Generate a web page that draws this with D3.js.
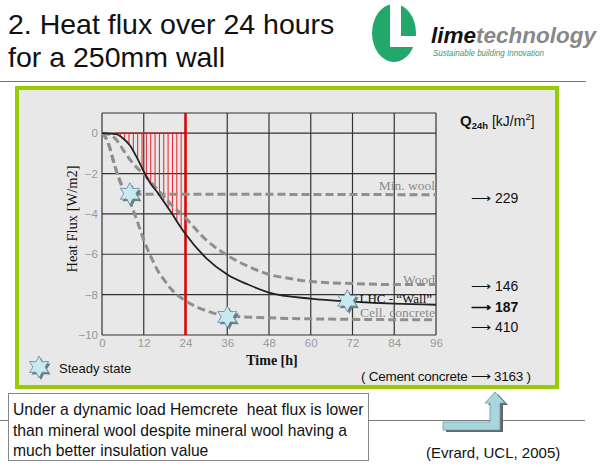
<!DOCTYPE html>
<html><head><meta charset="utf-8">
<script src="https://cdn.jsdelivr.net/npm/d3@7"></script>
<style>
body{margin:0;background:#fff;}
svg text{font-family:Arial,"Liberation Sans",sans-serif;}
.serif{font-family:"Liberation Serif","Times New Roman",serif !important;}
</style></head>
<body><svg id="c" width="600" height="469"></svg>
<script>
// ---------- data ----------
const xTicks = [0, 12, 24, 36, 48, 60, 72, 84, 96];
const yTicks = [0, -2, -4, -6, -8, -10];
const minWool = [[0,0],[1,-0.2],[2,-0.6],[3,-1.2],[4,-1.8],[5,-2.3],[6,-2.7],[7,-2.92],[8,-3.0],[10,-3.02],[24,-3.02],[48,-3.03],[96,-3.05]];
const wood = [[0,0],[2,-0.05],[4,-0.3],[6,-0.8],[8,-1.3],[10,-1.7],[12,-2.05],[16,-2.8],[20,-3.55],[24,-4.2],[30,-5.3],[36,-6.05],[42,-6.6],[48,-7.0],[54,-7.2],[60,-7.35],[72,-7.45],[84,-7.5],[96,-7.5]];
const lhcWall = [[0,0],[4,-0.05],[6,-0.25],[8,-0.6],[10,-1.2],[12,-1.9],[14,-2.5],[16,-2.95],[18,-3.45],[20,-3.95],[22,-4.5],[24,-5.0],[30,-6.2],[36,-7.0],[42,-7.5],[48,-7.9],[60,-8.2],[72,-8.35],[84,-8.45],[96,-8.5]];
const cellConcrete = [[0,0],[1,-0.2],[2,-0.6],[3,-1.2],[4,-1.8],[5,-2.3],[6,-2.7],[8,-3.4],[10,-4.3],[12,-5.3],[14,-6.1],[16,-6.8],[18,-7.3],[20,-7.75],[24,-8.3],[30,-8.8],[36,-9.05],[48,-9.15],[60,-9.2],[96,-9.25]];
const hatchTimes = [4,5.25,6.5,7.75,9,10.25,11.5,12.75,14,15.25,16.5,17.75,19,20.25,21.5,22.75,24];
const steadyStates = [[8,-3.0],[36,-9.1],[70.5,-8.3]];
const seriesLabels = [
  {name:"Min. wool", t:96, v:-2.82, anchor:"end", color:"#8c8c8c"},
  {name:"Wood", t:96, v:-7.45, anchor:"end", color:"#8c8c8c"},
  {name:"LHC - \u201CWall\u201D", t:74, v:-8.4, anchor:"start", color:"#111"},
  {name:"Cell. concrete", t:96, v:-9.1, anchor:"end", color:"#8c8c8c"}
];
const q24Labels = ["229","146","187","410"];
const q24Values = [-3.2,-7.55,-8.6,-9.6];

// ---------- drawing ----------
const svg = d3.select("#c");
// header
svg.append("text").attr("x",8).attr("y",34).attr("font-size",28.5).attr("fill","#111").text("2. Heat flux over 24 hours");
svg.append("text").attr("x",8).attr("y",67).attr("font-size",28.5).attr("fill","#111").text("for a 250mm wall");
svg.append("line").attr("x1",0).attr("x2",586).attr("y1",81.5).attr("y2",81.5).attr("stroke","#777").attr("stroke-width",1);
// logo
const lg = svg.append("g");
lg.append("ellipse").attr("cx",394).attr("cy",33).attr("rx",22).attr("ry",29).attr("fill","#23a86b");
lg.append("rect").attr("x",390).attr("y",0).attr("width",11).attr("height",47).attr("fill","#fff");
lg.append("rect").attr("x",390).attr("y",36).attr("width",30).attr("height",11).attr("fill","#fff");
svg.append("text").attr("x",431).attr("y",43).attr("font-size",22.5).attr("font-weight","bold").attr("font-style","italic").attr("fill","#111").text("lime");
svg.append("text").attr("x",476).attr("y",43).attr("font-size",22.5).attr("font-weight","bold").attr("font-style","italic").attr("fill","#888").text("technology");
svg.append("text").attr("x",433).attr("y",56).attr("font-size",8.5).attr("font-style","italic").attr("fill","#3a9a70").attr("textLength",111).attr("lengthAdjust","spacingAndGlyphs").text("Sustainable building Innovation");

// green panel
svg.append("rect").attr("x",17).attr("y",88).attr("width",540).attr("height",299).attr("fill","#e8e8e8").attr("stroke","#99cc00").attr("stroke-width",4);

const x = d3.scaleLinear().domain([0,96]).range([102,436]);
const y = d3.scaleLinear().domain([-10,1]).range([335,113]);

// grid
const g = svg.append("g");
g.selectAll(".vg").data(xTicks).join("line").attr("x1",d=>x(d)).attr("x2",d=>x(d)).attr("y1",y(1)).attr("y2",y(-10)).attr("stroke","#333").attr("stroke-width",1.2);
g.selectAll(".hg").data(yTicks.concat([1])).join("line").attr("x1",x(0)).attr("x2",x(96)).attr("y1",d=>y(d)).attr("y2",d=>y(d)).attr("stroke","#333").attr("stroke-width",1.2);

// axes labels
const xAxis = d3.axisBottom(x).tickValues(xTicks).tickSize(0).tickPadding(4);
const xa = svg.append("g").attr("transform",`translate(0,${y(-10)})`).call(xAxis);
xa.select(".domain").remove();
xa.selectAll("text").attr("font-size",11.5).attr("fill","#9a9a9a").attr("font-family","Arial");
const yAxis = d3.axisLeft(y).tickValues(yTicks).tickSize(0).tickPadding(4);
const ya = svg.append("g").attr("transform",`translate(${x(0)},0)`).call(yAxis);
ya.select(".domain").remove();
ya.selectAll("text").attr("font-size",11.5).attr("fill","#9a9a9a").attr("font-family","Arial");

// hatch
const lhcInterp = t => { for(let i=1;i<lhcWall.length;i++){ if(t<=lhcWall[i][0]){ const a=lhcWall[i-1],b=lhcWall[i]; return a[1]+(b[1]-a[1])*(t-a[0])/(b[0]-a[0]);} } return lhcWall[lhcWall.length-1][1]; };
svg.append("g").selectAll("line").data(hatchTimes).join("line")
  .attr("x1",d=>x(d)).attr("x2",d=>x(d)).attr("y1",y(0)).attr("y2",d=>y(lhcInterp(d)))
  .attr("stroke","#e8202a").attr("stroke-width",1);
svg.append("line").attr("x1",x(4)).attr("x2",x(24)).attr("y1",y(0)).attr("y2",y(0)).attr("stroke","#c02020").attr("stroke-width",1.2);
svg.append("line").attr("x1",x(24)).attr("x2",x(24)).attr("y1",y(1)).attr("y2",y(-10)).attr("stroke","#e00000").attr("stroke-width",2.5);

// curves
const line = d3.line().x(d=>x(d[0])).y(d=>y(d[1])).curve(d3.curveMonotoneX);
[minWool, wood, cellConcrete].forEach(s=>{
  svg.append("path").attr("d",line(s)).attr("fill","none").attr("stroke","#8f8f8f").attr("stroke-width",3).attr("stroke-dasharray","8,4");
});
svg.append("path").attr("d",line(lhcWall)).attr("fill","none").attr("stroke","#222").attr("stroke-width",1.8);

// star symbol
function hexStar(r){ const pts=[]; for(let i=0;i<12;i++){ const a=-Math.PI/2+i*Math.PI/6; const rr=i%2===0?r:r*0.55; pts.push([Math.cos(a)*rr,Math.sin(a)*rr]); } return "M"+pts.map(p=>p.join(",")).join("L")+"Z"; }
function drawStar(cx,cy,r){
  const s=svg.append("g").attr("transform",`translate(${cx},${cy})`);
  s.append("path").attr("d",hexStar(r)).attr("transform","translate(2,2)").attr("fill","#6e7a7e");
  s.append("path").attr("d",hexStar(r)).attr("fill","#c8e9f0").attr("stroke","#5c8a96").attr("stroke-width",0.8);
}
steadyStates.forEach(d=>drawStar(x(d[0]),y(d[1]),11));

// series labels
svg.append("g").selectAll("text").data(seriesLabels).join("text").attr("class","serif")
  .attr("x",d=>x(d.t)-(d.anchor==="end"?1:0)).attr("y",d=>y(d.v)).attr("text-anchor",d=>d.anchor)
  .attr("font-size",d=>d.anchor==="start"?13:13.5).attr("fill",d=>d.color).text(d=>d.name);

// axis titles
svg.append("text").attr("class","serif").attr("transform","translate(77,219) rotate(-90)").attr("text-anchor","middle").attr("font-size",14.5).attr("fill","#111").text("Heat Flux [W/m2]");
svg.append("text").attr("class","serif").attr("x",272).attr("y",365).attr("text-anchor","middle").attr("font-size",14).attr("font-weight","bold").attr("fill","#111").text("Time [h]");

// legend
drawStar(39,367,11);
svg.append("text").attr("x",59).attr("y",373).attr("font-size",13).attr("fill","#111").text("Steady state");

// right column
const qt = svg.append("text").attr("x",460).attr("y",126).attr("font-size",14).attr("fill","#111");
qt.append("tspan").attr("font-weight","bold").attr("font-size",15).text("Q");
qt.append("tspan").attr("font-weight","bold").attr("font-size",9.5).attr("dy",3).text("24h");
qt.append("tspan").attr("dy",-3).text(" [kJ/m");
qt.append("tspan").attr("font-size",9.5).attr("dy",-6).text("2");
qt.append("tspan").attr("dy",6).text("]");
svg.append("g").selectAll("text").data(q24Labels).join("text")
  .attr("x",471).attr("y",(d,i)=>y(q24Values[i])+5).attr("font-size",14).attr("fill","#111")
  .attr("font-weight",d=>d==="187"?"bold":"normal")
  .text(d=>"\u27F6 "+d);
svg.append("text").attr("x",361).attr("y",381).attr("font-size",13.5).attr("fill","#111").attr("textLength",170).text("( Cement concrete \u27F6 3163 )");

// bottom
svg.append("line").attr("x1",0).attr("x2",585).attr("y1",420.5).attr("y2",420.5).attr("stroke","#777").attr("stroke-width",1);
// bent arrow
const ar = "M443,422 L490,422 L490,403 L485,403 L495,392 L505,403 L500,403 L500,430 L443,430 Z";
svg.append("path").attr("d",ar).attr("transform","translate(3,2)").attr("fill","#666");
svg.append("path").attr("d",ar).attr("fill","#a9d6de").attr("stroke","#6f9aa4").attr("stroke-width",0.8);
svg.append("rect").attr("x",8.5).attr("y",393.5).attr("width",360).attr("height",67).attr("fill","#fff").attr("stroke","#888").attr("stroke-width",1);
["Under a dynamic load Hemcrete  heat flux is lower","than mineral wool despite mineral wool having a","much better insulation value"].forEach((t,i)=>{
  svg.append("text").attr("x",13).attr("y",415+i*20.5).attr("font-size",15.7).attr("fill","#111").style("white-space","pre").text(t);
});
svg.append("text").attr("x",426).attr("y",458).attr("font-size",15).attr("fill","#111").text("(Evrard, UCL, 2005)");
</script></body></html>
